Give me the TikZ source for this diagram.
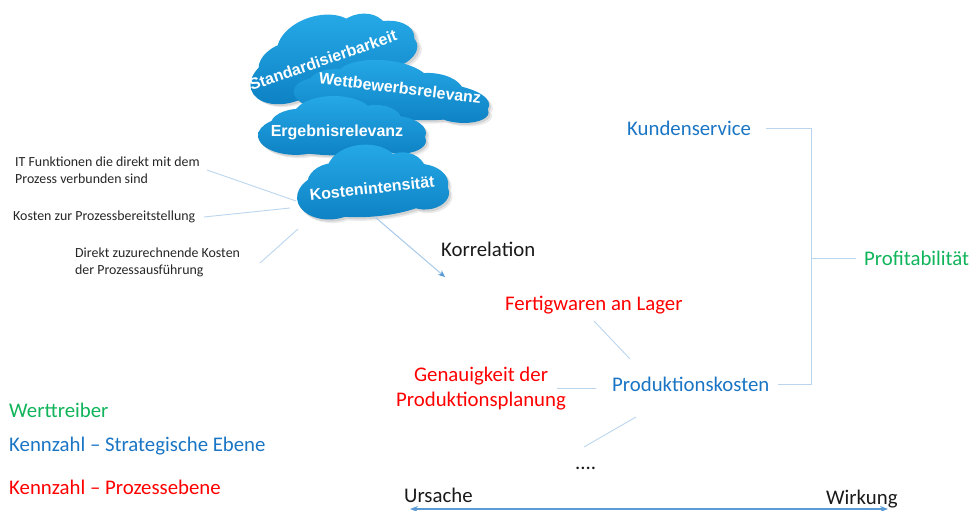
\documentclass[tikz,border=0pt]{standalone}
\usepackage{fontspec}
\setmainfont{Carlito}
\newfontfamily\wolkefont{Liberation Sans}[BoldFont={Liberation Sans Bold}]
\usetikzlibrary{arrows.meta}

\definecolor{wertgruen}{HTML}{10B45A}
\definecolor{ebeneblau}{HTML}{1A75C4}
\definecolor{prozessrot}{HTML}{FF0000}
\definecolor{linieblau}{HTML}{BBD5EF}
\definecolor{pfeilblau}{HTML}{5B9BD5}
\definecolor{wolkehell}{HTML}{25A8E6}
\definecolor{wolkedunkel}{HTML}{0E82C4}

\tikzset{
    wert/.style={anchor=west, inner sep=0pt, text=wertgruen, font=\fontsize{20.8}{25}\selectfont},
    strategie/.style={anchor=west, inner sep=0pt, text=ebeneblau, font=\fontsize{20.8}{25}\selectfont},
    prozess/.style={anchor=west, inner sep=0pt, text=prozessrot, font=\fontsize{20.8}{25}\selectfont},
    schwarz/.style={anchor=west, inner sep=0pt, text=black!90, font=\fontsize{20.8}{25}\selectfont},
    notiz/.style={anchor=west, inner sep=0pt, align=left, text=black!85, font=\fontsize{13.9}{17}\selectfont},
    wolketext/.style={inner sep=0pt, text=white, font=\wolkefont\bfseries\fontsize{16}{18}\selectfont},
    linie/.style={draw=linieblau, line width=0.9pt},
    pfeil/.style={draw=linieblau!80!pfeilblau, line width=1pt, -{Stealth[length=7pt,width=6pt,color=pfeilblau]}},
}

% Umriss einer Wolke aus Ellipsen
\newcommand{\wolkepfad}{
    (0,15) ellipse (90 and 28)
    (-55,12) ellipse (45 and 30)
    (55,8) ellipse (45 and 28)
    (-10,-18) ellipse (48 and 32)
    (40,-10) ellipse (32 and 26)
    (-50,-5) ellipse (35 and 25)
    (70,20) ellipse (30 and 20)
}
% Wolke: Mitte, Drehung, xscale, yscale
\newcommand{\wolke}[4]{
    \begin{scope}[shift={#1}, rotate=#2, xscale=#3, yscale=#4]
        \fill[black, opacity=0.08] [shift={(4,5)}] \wolkepfad;
        \fill[black, opacity=0.10] [shift={(2,3)}] \wolkepfad;
        \shade[top color=wolkehell, bottom color=wolkedunkel] \wolkepfad;
    \end{scope}
}

\begin{document}
\begin{tikzpicture}[x=1pt, y=-1pt]
    \useasboundingbox (0,0) rectangle (974,511);

    % Wolken
    \wolke{(330,54)}{18}{0.86}{0.82}
    \wolke{(392,92)}{-5}{0.98}{0.62}
    \wolke{(342,128)}{0}{0.84}{0.64}
    \wolke{(372,183)}{5}{0.76}{0.78}
    \node[wolketext, rotate=19] (standard) at (323,60) {Standardisierbarkeit};
    \node[wolketext, rotate=-7] (wettbewerb) at (400,88) {Wettbewerbsrelevanz};
    \node[wolketext] (ergebnis) at (337,132) {Ergebnisrelevanz};
    \node[wolketext, rotate=6] (kosten) at (372,188) {Kostenintensität};

    % Texte links an der Wolke
    \node[notiz] (itfunktion) at (15,170.5) {IT Funktionen die direkt mit dem\\Prozess verbunden sind};
    \node[notiz] (bereitstellung) at (13,217) {Kosten zur Prozessbereitstellung};
    \node[notiz] (direktkosten) at (75,262.5) {Direkt zuzurechnende Kosten\\der Prozessausführung};

    % Kennzahlen
    \node[schwarz] (korrelation) at (441,249) {Korrelation};
    \node[strategie] (kundenservice) at (627,128) {Kundenservice};
    \node[wert] (profit) at (864,258) {Profitabilität};
    \node[prozess] (fertigwaren) at (505,305) {Fertigwaren an Lager};
    \node[prozess, align=center] (genauigkeit) at (396,388.5) {Genauigkeit der\\Produktionsplanung};
    \node[strategie] (produktion) at (612,384) {Produktionskosten};
    \node[schwarz] (punkte) at (575,468) {....};

    % Legende
    \node[wert] (legendewert) at (9,410) {Werttreiber};
    \node[strategie] (legendestrategie) at (9,446) {Kennzahl – Strategische Ebene};
    \node[prozess] (legendeprozess) at (9,487) {Kennzahl – Prozessebene};

    % Ursache und Wirkung
    \node[schwarz] (ursache) at (404,495) {Ursache};
    \node[schwarz] (wirkung) at (826,499) {Wirkung};

    % Punkte an den Wolken und Linien
    \coordinate (randoben) at (296,201);
    \coordinate (randmitte) at (290,208);
    \coordinate (randunten) at (298,229);
    \coordinate (randpfeil) at (375,217);
    \coordinate (korrpfeil) at (445,277);
    \coordinate (fertigende) at (594,321);
    \coordinate (prodoben) at (630,359);
    \coordinate (prodlinks) at (596,388);
    \coordinate (genauende) at (557,388);
    \coordinate (produnten) at (636,417);
    \coordinate (punkteoben) at (584,447);
    \coordinate (klammer) at (811,258);

    \draw[linie] (207,170) -- (randoben);
    \draw[linie] (204,217) -- (randmitte);
    \draw[linie] (260,263) -- (randunten);
    \draw[pfeil] (randpfeil) -- (korrpfeil);
    \draw[linie] (fertigende) -- (prodoben);
    \draw[linie] (genauende) -- (prodlinks);
    \draw[linie] (produnten) -- (punkteoben);

    % Klammer zur Profitabilitaet
    \draw[linie] ([xshift=15pt]kundenservice.east) -| (klammer) |- ([xshift=8pt]produktion.east);
    \draw[linie] (klammer) -- ([xshift=-8pt]profit.west);

    \draw[draw=pfeilblau, line width=1.2pt, {Stealth[length=8pt,width=6pt]}-{Stealth[length=8pt,width=6pt]}] (410,509) -- (888,509);
\end{tikzpicture}
\end{document}
